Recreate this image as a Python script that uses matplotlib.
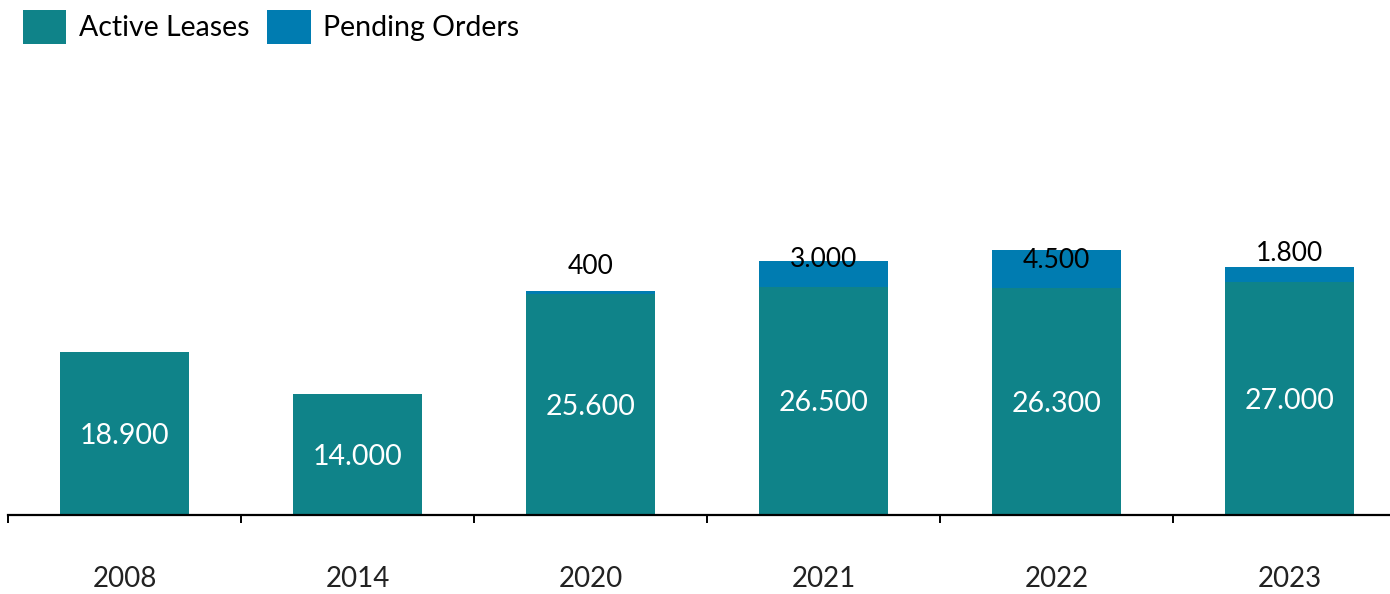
import matplotlib
matplotlib.use("Agg")
import matplotlib.pyplot as plt
from matplotlib.ticker import FixedLocator

plt.rcParams['font.family'] = ['Lato', 'DejaVu Sans']

years = ["2008", "2014", "2020", "2021", "2022", "2023"]
active = [18900, 14000, 25600, 26500, 26300, 27000]
pending = [0, 0, 400, 3000, 4500, 1800]
active_labels = ["18.900", "14.000", "25.600", "26.500", "26.300", "27.000"]
pending_labels = ["", "", "400", "3.000", "4.500", "1.800"]

C_ACTIVE = "#0F8389"
C_PEND = "#007CB1"

W, H = 1390, 594
fig = plt.figure(figsize=(W / 100, H / 100), dpi=100)
ax = fig.add_axes([8 / W, 79 / H, 1 - 8 / W, 1 - 79 / H])

x = list(range(len(years)))
ax.bar(x, active, width=0.557, color=C_ACTIVE, label="Active Leases", zorder=2)
ax.bar(x, pending, width=0.557, bottom=active, color=C_PEND, label="Pending Orders", zorder=2)

ax.set_xlim(-0.5, -0.5 + (W - 8) / 233)
ax.set_ylim(0, 515 / 0.00862)

for i, (a, lab) in enumerate(zip(active, active_labels)):
    ax.annotate(lab, xy=(i, a / 2), xytext=(0, -2.5 * 0.72), textcoords="offset points",
                ha="center", va="center", color="white", fontsize=20.5)

pend_offsets_px = [0, 0, 24, 1, -11, 13]
for i, (a, p, lab) in enumerate(zip(active, pending, pending_labels)):
    if not lab:
        continue
    ax.annotate(lab, xy=(i, a + p), xytext=(0, pend_offsets_px[i] * 0.72),
                textcoords="offset points", ha="center", va="center",
                color="black", fontsize=19)

for s in ["top", "right", "left"]:
    ax.spines[s].set_visible(False)
ax.spines["bottom"].set_linewidth(1.6)
ax.spines["bottom"].set_color("black")
ax.set_yticks([])

ax.set_xticks(x)
ax.set_xticklabels(years, fontsize=20, color="#222222")
ax.tick_params(axis="x", which="major", length=0, pad=37)
ax.xaxis.set_minor_locator(FixedLocator([i - 0.5 for i in x]))
ax.tick_params(axis="x", which="minor", length=6, width=1.4, color="black")

fig.legend(loc="upper left", bbox_to_anchor=(23 / W, 1 - 10 / H), ncol=2,
           frameon=False, fontsize=20.5, handlelength=1.52, handleheight=1.45,
           handletextpad=0.45, columnspacing=0.62, borderpad=0, borderaxespad=0)

fig.savefig("out.png", dpi=100)
